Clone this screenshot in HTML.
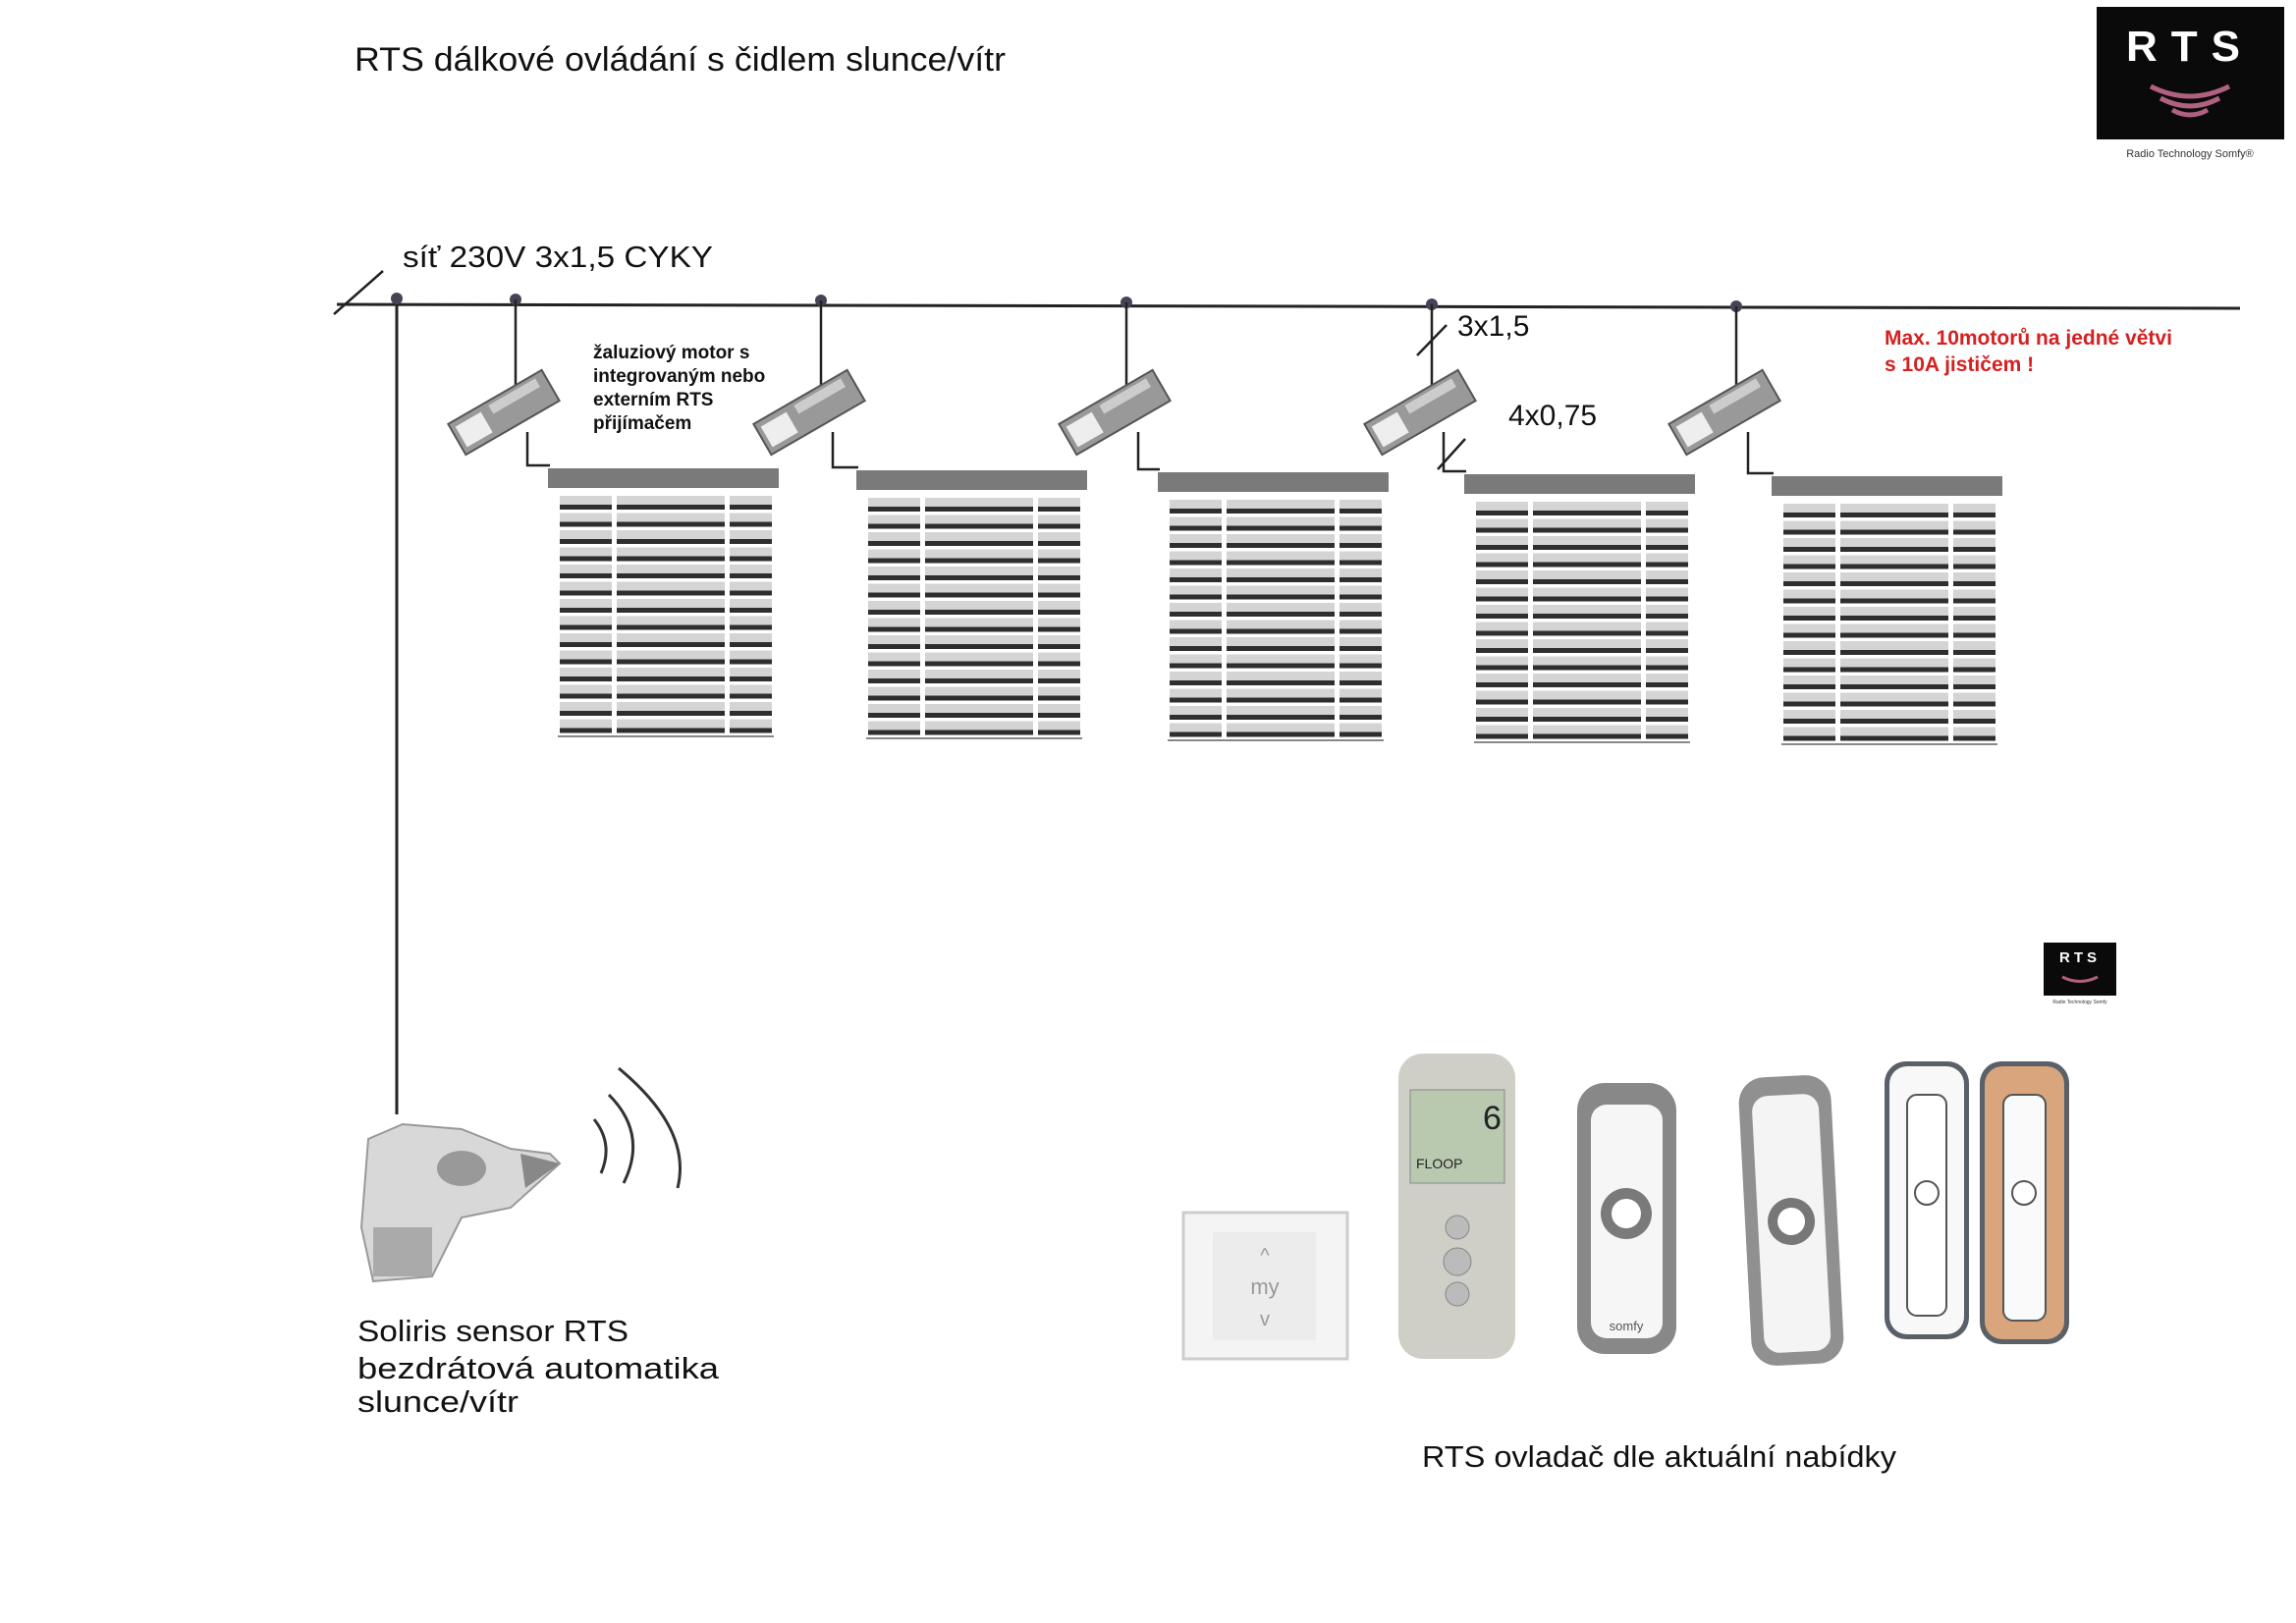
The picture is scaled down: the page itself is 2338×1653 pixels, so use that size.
<!DOCTYPE html>
<html><head><meta charset="utf-8"><style>
html,body{margin:0;padding:0;background:#fff;}
svg{display:block;}
text{font-family:"Liberation Sans",sans-serif;}
</style></head><body>
<svg width="2338" height="1653" viewBox="0 0 2338 1653" xmlns="http://www.w3.org/2000/svg">
<defs>
<pattern id="sl" x="0" y="28" width="235" height="17.5" patternUnits="userSpaceOnUse">
<rect x="0" y="0" width="235" height="9" fill="#d4d4d4"/>
<rect x="0" y="9" width="235" height="5" fill="#2e2e2e"/>
</pattern>
<g id="blind">
<rect x="0" y="0" width="235" height="20" fill="#7a7a7a"/>
<rect x="12" y="26" width="216" height="245" fill="url(#sl)"/>
<rect x="65" y="20" width="5" height="252" fill="#fff"/>
<rect x="180" y="20" width="5" height="252" fill="#fff"/>
<rect x="10" y="272" width="220" height="2" fill="#888"/>
</g>
<g id="motor">
<g transform="rotate(-30)">
<rect x="-55" y="-18" width="110" height="36" fill="#999" stroke="#555" stroke-width="2"/>
<rect x="-50" y="-12" width="30" height="24" fill="#eee"/>
<rect x="-10" y="-14" width="55" height="10" fill="#ccc"/>
</g>
</g>
</defs>

<text x="361" y="72" font-size="34" fill="#111" textLength="663" lengthAdjust="spacingAndGlyphs">RTS dálkové ovládání s čidlem slunce/vítr</text>

<rect x="2135" y="7" width="191" height="135" fill="#0a0a0a"/>
<text x="2230" y="62" font-size="44" font-weight="bold" fill="#fff" text-anchor="middle" letter-spacing="14">RTS</text>
<path d="M2190 88 Q2230 108 2270 88" stroke="#b06080" stroke-width="5" fill="none"/>
<path d="M2200 100 Q2230 116 2260 100" stroke="#b06080" stroke-width="5" fill="none"/>
<path d="M2212 112 Q2230 122 2248 112" stroke="#b06080" stroke-width="5" fill="none"/>
<text x="2230" y="160" font-size="11" fill="#333" text-anchor="middle">Radio Technology Somfy®</text>

<line x1="343" y1="310" x2="2281" y2="314" stroke="#222" stroke-width="3"/>
<line x1="340" y1="320" x2="390" y2="276" stroke="#222" stroke-width="2.5"/>
<text x="410" y="272" font-size="31" fill="#111" textLength="316" lengthAdjust="spacingAndGlyphs">síť 230V 3x1,5 CYKY</text>
<line x1="404" y1="310" x2="404" y2="1135" stroke="#222" stroke-width="3"/>
<g fill="#445">
<circle cx="404" cy="304" r="6"/><circle cx="525" cy="305" r="6"/><circle cx="836" cy="306" r="6"/>
<circle cx="1147" cy="308" r="6"/><circle cx="1458" cy="310" r="6"/><circle cx="1768" cy="312" r="6"/>
</g>
<g stroke="#222" stroke-width="2.5" fill="none">
<path d="M525 305V392"/><path d="M836 306V392"/><path d="M1147 308V392"/><path d="M1458 310V392"/><path d="M1768 312V392"/>
<path d="M537 440V474H560"/><path d="M848 440V476H874"/><path d="M1159 440V478H1181"/><path d="M1470 440V480H1493"/><path d="M1780 440V482H1806"/>
<line x1="1443" y1="362" x2="1473" y2="331"/>
<line x1="1464" y1="478" x2="1492" y2="447"/>
</g>
<use href="#motor" x="513" y="420"/>
<use href="#motor" x="824" y="420"/>
<use href="#motor" x="1135" y="420"/>
<use href="#motor" x="1446" y="420"/>
<use href="#motor" x="1756" y="420"/>

<use href="#blind" x="558" y="477"/>
<use href="#blind" x="872" y="479"/>
<use href="#blind" x="1179" y="481"/>
<use href="#blind" x="1491" y="483"/>
<use href="#blind" x="1804" y="485"/>

<g font-size="19" font-weight="bold" fill="#111">
<text x="604" y="365">žaluziový motor s</text>
<text x="604" y="389">integrovaným nebo</text>
<text x="604" y="413">externím RTS</text>
<text x="604" y="437">přijímačem</text>
</g>
<text x="1484" y="342" font-size="30" fill="#111">3x1,5</text>
<text x="1536" y="433" font-size="30" fill="#111">4x0,75</text>
<g font-size="21" font-weight="bold" fill="#d42020">
<text x="1919" y="351">Max. 10motorů na jedné větvi</text>
<text x="1919" y="378">s 10A jističem !</text>
</g>

<rect x="2081" y="960" width="74" height="54" fill="#0a0a0a"/>
<text x="2118" y="980" font-size="15" font-weight="bold" fill="#fff" text-anchor="middle" letter-spacing="4">RTS</text>
<path d="M2100 995 Q2118 1004 2136 995" stroke="#b06080" stroke-width="3" fill="none"/>
<text x="2118" y="1022" font-size="5" fill="#333" text-anchor="middle">Radio Technology Somfy</text>

<path d="M375 1160 L410 1145 L470 1150 L520 1170 L560 1175 L570 1185 L520 1230 L470 1240 L440 1300 L380 1305 L368 1250 Z" fill="#d8d8d8" stroke="#999" stroke-width="2"/>
<rect x="380" y="1250" width="60" height="50" fill="#aaa"/>
<ellipse cx="470" cy="1190" rx="25" ry="18" fill="#999"/>
<path d="M530 1175 L570 1185 L535 1210 Z" fill="#888"/>
<g stroke="#333" stroke-width="3" fill="none">
<path d="M605 1140 Q625 1165 612 1195"/>
<path d="M620 1115 Q660 1155 635 1205"/>
<path d="M630 1088 Q705 1150 690 1210"/>
</g>
<g font-size="31" fill="#111">
<text x="364" y="1366" textLength="276" lengthAdjust="spacingAndGlyphs">Soliris sensor RTS</text>
<text x="364" y="1404" textLength="368" lengthAdjust="spacingAndGlyphs">bezdrátová  automatika</text>
<text x="364" y="1438" textLength="164" lengthAdjust="spacingAndGlyphs">slunce/vítr</text>
</g>

<rect x="1205" y="1235" width="167" height="149" fill="#f4f4f4" stroke="#ccc" stroke-width="3"/>
<rect x="1235" y="1255" width="105" height="110" fill="#ececec"/>
<text x="1288" y="1318" font-size="22" fill="#999" text-anchor="middle">my</text>
<text x="1288" y="1285" font-size="20" fill="#999" text-anchor="middle">^</text>
<text x="1288" y="1350" font-size="20" fill="#999" text-anchor="middle">v</text>

<rect x="1424" y="1073" width="119" height="311" rx="25" fill="#cfcfc8"/>
<rect x="1436" y="1110" width="96" height="95" fill="#b9c9b0" stroke="#888"/>
<text x="1510" y="1150" font-size="34" fill="#222">6</text>
<text x="1442" y="1190" font-size="14" fill="#222">FLOOP</text>
<circle cx="1484" cy="1250" r="12" fill="#bbb" stroke="#888"/>
<circle cx="1484" cy="1285" r="14" fill="#bbb" stroke="#888"/>
<circle cx="1484" cy="1318" r="12" fill="#bbb" stroke="#888"/>

<rect x="1606" y="1103" width="101" height="276" rx="28" fill="#888"/>
<rect x="1620" y="1125" width="73" height="238" rx="16" fill="#f6f6f6"/>
<circle cx="1656" cy="1236" r="26" fill="#7a7a7a"/><circle cx="1656" cy="1236" r="15" fill="#fff"/>
<text x="1656" y="1355" font-size="13" fill="#555" text-anchor="middle">somfy</text>

<g transform="rotate(-3 1824 1243)">
<rect x="1777" y="1096" width="94" height="294" rx="26" fill="#909090"/>
<rect x="1790" y="1115" width="68" height="262" rx="16" fill="#f4f4f4"/>
<circle cx="1824" cy="1244" r="24" fill="#777"/><circle cx="1824" cy="1244" r="14" fill="#fff"/>
</g>

<rect x="1919" y="1081" width="86" height="283" rx="22" fill="#5a6068"/>
<rect x="1924" y="1086" width="76" height="273" rx="18" fill="#f8f8f8"/>
<rect x="1942" y="1115" width="40" height="225" rx="10" fill="#fff" stroke="#555" stroke-width="2"/>
<circle cx="1962" cy="1215" r="12" fill="#fff" stroke="#555" stroke-width="2"/>

<rect x="2016" y="1081" width="91" height="288" rx="22" fill="#5a6068"/>
<rect x="2021" y="1086" width="81" height="278" rx="18" fill="#d9a57c"/>
<rect x="2040" y="1115" width="43" height="230" rx="10" fill="#fafafa" stroke="#555" stroke-width="2"/>
<circle cx="2061" cy="1215" r="12" fill="#fff" stroke="#555" stroke-width="2"/>

<text x="1448" y="1494" font-size="31" fill="#111" textLength="483" lengthAdjust="spacingAndGlyphs">RTS ovladač dle aktuální nabídky</text>
</svg>
</body></html>
